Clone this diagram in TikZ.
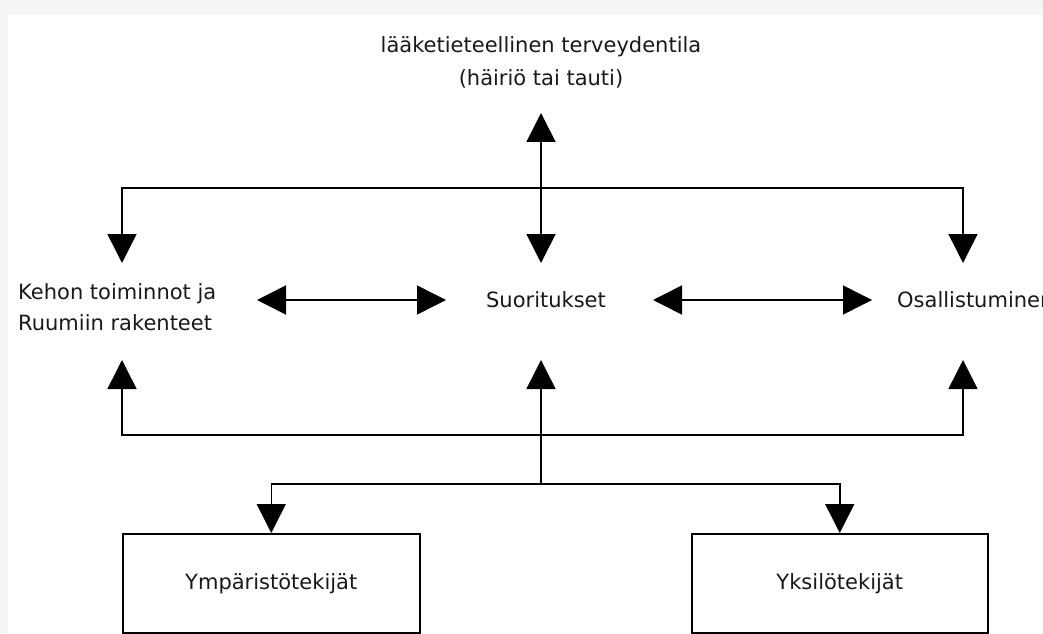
\documentclass[tikz,border=0pt]{standalone}
\usepackage{fontspec}
\setmainfont{DejaVu Sans}
\usetikzlibrary{arrows.meta}
\begin{document}
\begin{tikzpicture}[x=1pt,y=1pt,
  conn/.style={line width=1.5pt, draw=black},
  tipend/.style={-{Triangle[length=29pt,width=29pt]}},
  dtip/.style={{Triangle[length=29pt,width=29pt]}-{Triangle[length=29pt,width=29pt]}},
  lbl/.style={inner sep=0pt, font=\fontsize{21}{31}\selectfont, text=black!90},
  factor/.style={draw=black, line width=1.5pt, minimum width=297pt, minimum height=99pt,
    inner sep=0pt, anchor=north west, font=\fontsize{21}{31}\selectfont, text=black!90}]
\clip (0,0) rectangle (1043,633);
\fill[gray!8] (0,0) rectangle (1043,633);
\fill[white] (8,0) rectangle (1043,618);

% nodes
\node[lbl, align=center, font=\fontsize{21}{33}\selectfont] (top) at (541,571) {lääketieteellinen terveydentila\\(häiriö tai tauti)};
\node[lbl, align=left, anchor=west] (kehon) at (18,326) {Kehon toiminnot ja\\Ruumiin rakenteet};
\node[lbl] (suor) at (546,333) {Suoritukset};
\node[lbl, anchor=west] (osall) at (897,333) {Osallistuminen};
\node[factor] (ymp) at (122,100) {Ympäristötekijät};
\node[factor, minimum width=296pt] (yks) at (691,100) {Yksilötekijät};

% connector points
\coordinate (tt) at (541,520);
\coordinate (jtop) at (541,445);
\coordinate (kd) at (122,370);
\coordinate (sd) at (541,370);
\coordinate (od) at (963,370);
\coordinate (kr) at (257,333);
\coordinate (sl) at (446,333);
\coordinate (sr) at (653,333);
\coordinate (ol) at (872,333);
\coordinate (ku) at (122,273);
\coordinate (su) at (541,273);
\coordinate (ou) at (963,273);
\coordinate (jb) at (541,198);
\coordinate (jl) at (541,149);

% top connectors
\draw[conn,dtip] (sd) -- (tt);
\draw[conn,tipend] (jtop) -| (kd);
\draw[conn,tipend] (jtop) -| (od);
% middle
\draw[conn,dtip] (kr) -- (sl);
\draw[conn,dtip] (sr) -- (ol);
% bottom
\draw[conn,tipend] (jl) -- (su);
\draw[conn,tipend] (jb) -| (ku);
\draw[conn,tipend] (jb) -| (ou);
\draw[conn,tipend] (jl) -| (ymp.north);
\draw[conn,tipend] (jl) -| (yks.north);
\end{tikzpicture}
\end{document}
